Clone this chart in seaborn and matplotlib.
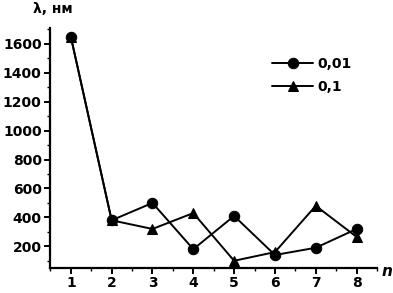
import matplotlib
matplotlib.use("Agg")
import matplotlib.pyplot as plt
import seaborn as sns
import pandas as pd
from matplotlib.ticker import MultipleLocator

n_values = [1, 2, 3, 4, 5, 6, 7, 8]
series_001 = [1650, 380, 500, 180, 410, 140, 190, 320]
series_01 = [1650, 380, 320, 430, 100, 160, 480, 265]
labels = ["0,01", "0,1"]

sns.set_theme(style="ticks")
plt.rcParams['font.family'] = ['DejaVu Sans']
plt.rcParams['font.weight'] = 'bold'
plt.rcParams['text.color'] = 'black'
plt.rcParams['xtick.color'] = 'black'
plt.rcParams['ytick.color'] = 'black'
plt.rcParams['xtick.labelcolor'] = 'black'
plt.rcParams['ytick.labelcolor'] = 'black'

df = pd.DataFrame({
    "n": n_values * 2,
    "val": series_001 + series_01,
    "conc": [labels[0]] * len(n_values) + [labels[1]] * len(n_values),
})

fig = plt.figure(figsize=(3.93, 2.93), dpi=100)
ax = fig.add_axes([50/393, 25/293, 327/393, 240/293])

sns.lineplot(data=df, x="n", y="val", hue="conc", style="conc",
             palette=["black", "black"], markers=["o", "^"], dashes=False,
             markersize=7.5, linewidth=1.4, markeredgecolor="black", ax=ax)

ax.set_xlim(0.49, 8.5)
ax.set_ylim(50, 1710)
ax.set_xticks(n_values)
ax.set_yticks([200, 400, 600, 800, 1000, 1200, 1400, 1600])
ax.yaxis.set_minor_locator(MultipleLocator(100))
ax.xaxis.set_minor_locator(MultipleLocator(0.5))
ax.tick_params(axis='both', which='major', labelsize=10, length=4, width=1.4,
               color='black', labelcolor='black', pad=2)
ax.tick_params(axis='both', which='minor', length=2.5, width=1.0, color='black')
for lab in ax.get_xticklabels() + ax.get_yticklabels():
    lab.set_fontweight('bold')
ax.spines['top'].set_visible(False)
ax.spines['right'].set_visible(False)
ax.spines['left'].set_linewidth(1.6)
ax.spines['bottom'].set_linewidth(1.6)
ax.spines['left'].set_color('black')
ax.spines['bottom'].set_color('black')
ax.set_xlabel("")
ax.set_ylabel("")

fig.text(33/393, 1 - 9/293, "λ, нм", fontsize=10, fontweight='bold', va='center', ha='left', color='black')
fig.text(382/393, 1 - 271/293, "n", fontsize=11, fontweight='bold', fontstyle='italic', va='center', ha='left', color='black')

leg = ax.legend(title=None, frameon=False, loc='upper left', bbox_to_anchor=(0.64, 0.93),
                fontsize=10, handlelength=3.0, handletextpad=0.3, labelspacing=0.6)
for t in leg.get_texts():
    t.set_fontweight('bold')
    t.set_color('black')

fig.savefig("out.png", dpi=100)
